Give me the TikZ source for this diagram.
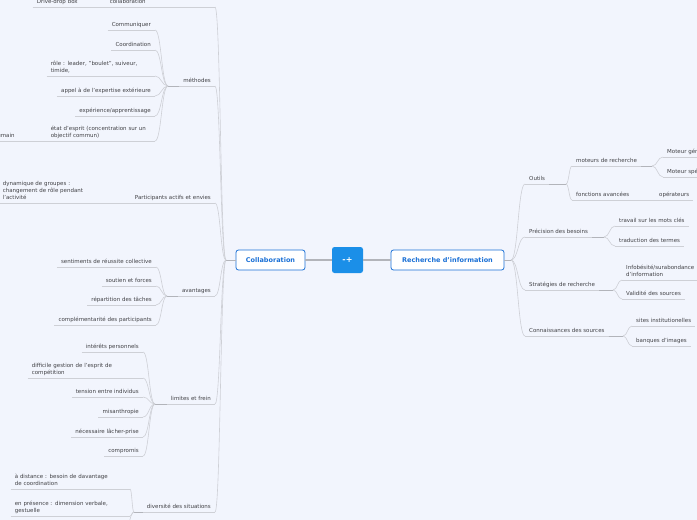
\documentclass[tikz,border=0pt]{standalone}
\usepackage{fontspec}
\setmainfont{DejaVu Sans}
\definecolor{mmBack}{RGB}{242, 245, 253}
\definecolor{mmBlue}{RGB}{27, 143, 232}
\definecolor{mmDeep}{RGB}{26, 112, 214}
\definecolor{mmText}{RGB}{66, 66, 70}
\definecolor{mmLine}{RGB}{206, 208, 214}
\definecolor{mmStub}{RGB}{178, 180, 186}
\usetikzlibrary{calc}
\tikzset{
  mainnode/.style={rectangle, rounded corners=2.5pt, draw=mmDeep, line width=0.8pt, fill=white, text=mmDeep, font=\fontsize{6.5}{7}\selectfont\bfseries, minimum height=20pt, inner sep=0pt},
  centernode/.style={rectangle, rounded corners=2.5pt, fill=mmBlue, text=white, font=\fontsize{8}{9}\selectfont\bfseries, minimum width=31pt, minimum height=26pt},
  topic/.style={inner xsep=4pt, inner ysep=1pt, text=mmText, font=\fontsize{5.5}{7}\selectfont, align=left,
    execute at end node=\strut,
    append after command={(\tikzlastnode.south west) edge[conn] (\tikzlastnode.south east)}},
  ltopic/.style={topic, anchor=south east},
  rtopic/.style={topic, anchor=south west},
  conn/.style={draw=mmLine, line width=0.6pt},
  stub/.style={draw=mmStub, line width=1pt},
  link/.style={draw=mmStub, line width=1.6pt},
}
% curved connector from a junction to the end of a child's underline
\newcommand\branch[2]{\draw[conn] (#1) .. controls ($(#1)!0.5!(#1 -| #2)$) and ($(#2)!0.5!(#2 -| #1)$) .. (#2);}

\begin{document}
\begin{tikzpicture}[x=1pt, y=1pt]
  \useasboundingbox (0,0) rectangle (697,-520);
  \clip (0,0) rectangle (697,-520);
  \fill[mmBack] (0,0) rectangle (697,-520);

  % centre
  \node[centernode] (root) at (347.5,-260) {-+};
  \node[mainnode, minimum width=69pt] (collab) at (270.5,-260) {Collaboration};
  \node[mainnode, minimum width=113pt] (rech) at (447.5,-260) {Recherche d'information};
  \draw[link] (root.west) -- (collab.east);
  \draw[link] (root.east) -- (rech.west);
  \coordinate (jcollab) at (226,-260);
  \coordinate (jrech) at (511,-260);
  \draw[stub] (collab.west) -- (jcollab);
  \draw[stub] (rech.east) -- (jrech);

  % Collaboration side
  \node[ltopic, text width=101pt] (outcol) at (215,-7) {collaboration};
  \node[ltopic, text width=65pt] (drive) at (106,-7) {Drive-drop box};

  \node[ltopic] (meth) at (215,-86) {méthodes};
  \node[ltopic] (comm) at (155,-30) {Communiquer};
  \node[ltopic] (coord) at (155,-50) {Coordination};
  \node[ltopic, text width=100pt] (role) at (155,-76) {rôle : leader, "boulet", suiveur,\\timide,};
  \node[ltopic] (appel) at (155,-96) {appel à de l'expertise extérieure};
  \node[ltopic] (expe) at (155,-116) {expérience/apprentissage};
  \node[ltopic, text width=100pt] (etat) at (155,-141) {état d'esprit (concentration sur un\\objectif commun)};
  \node[ltopic, text width=49pt] (huma) at (47,-141) {humain};

  \node[ltopic] (part) at (215,-203) {Participants actifs et envies};
  \node[ltopic, text width=100pt] (dyna) at (107,-203) {dynamique de groupes :\\changement de rôle pendant\\l'activité};

  \node[ltopic] (avan) at (215,-296) {avantages};
  \node[ltopic] (senti) at (156,-267) {sentiments de réussite collective};
  \node[ltopic] (sout) at (156,-286) {soutien et forces};
  \node[ltopic] (repa) at (156,-305) {répartition des tâches};
  \node[ltopic] (compl) at (156,-325) {complémentarité des participants};

  \node[ltopic] (limi) at (215,-404) {limites et frein};
  \node[ltopic] (inter) at (143,-352) {intérêts personnels};
  \node[ltopic, text width=107pt] (diff) at (143,-378) {difficile gestion de l'esprit de\\compétition};
  \node[ltopic] (tens) at (143,-397) {tension entre individus};
  \node[ltopic] (misa) at (143,-417) {misanthropie};
  \node[ltopic] (nece) at (143,-437) {nécessaire lâcher-prise};
  \node[ltopic] (compr) at (143,-456) {compromis};

  \node[ltopic] (dive) at (215,-512) {diversité des situations};
  \node[ltopic, text width=111pt] (dist) at (130,-489) {à distance : besoin de davantage\\de coordination};
  \node[ltopic, text width=111pt] (pres) at (130,-516) {en présence : dimension verbale,\\gestuelle};
  \coordinate (more) at (124,-536);

  \coordinate (jmeth) at (168,-86);
  \coordinate (javan) at (167,-296);
  \coordinate (jlimi) at (155,-404);
  \coordinate (jdive) at (134,-512);
  \draw[stub] (meth.south west) -- (jmeth);
  \draw[stub] (avan.south west) -- (javan);
  \draw[stub] (limi.south west) -- (jlimi);
  \draw[stub] (dive.south west) -- (jdive);

  \foreach \n in {outcol, meth, part, avan, limi, dive}
    {\branch{jcollab}{\n.south east}}
  \branch{outcol.south west}{drive.south east}
  \foreach \n in {comm, coord, role, appel, expe, etat}
    {\branch{jmeth}{\n.south east}}
  \branch{etat.south west}{huma.south east}
  \branch{part.south west}{dyna.south east}
  \foreach \n in {senti, sout, repa, compl}
    {\branch{javan}{\n.south east}}
  \foreach \n in {inter, diff, tens, misa, nece, compr}
    {\branch{jlimi}{\n.south east}}
  \branch{jdive}{dist.south east}
  \branch{jdive}{pres.south east}
  \branch{jdive}{more}

  % Recherche side
  \node[rtopic] (outi) at (525,-184) {Outils};
  \node[rtopic] (mote) at (572,-166) {moteurs de recherche};
  \node[rtopic] (gene) at (663,-157) {Moteur généraliste};
  \node[rtopic] (spec) at (663,-177) {Moteur spécialisé};
  \node[rtopic] (fonc) at (572,-200) {fonctions avancées};
  \node[rtopic] (oper) at (655,-200) {opérateurs};

  \node[rtopic] (prec) at (525,-237) {Précision des besoins};
  \node[rtopic] (trav) at (615,-226) {travail sur les mots clés};
  \node[rtopic] (trad) at (615,-246) {traduction des termes};

  \node[rtopic] (stra) at (525,-290) {Stratégies de recherche};
  \node[rtopic, text width=80pt] (info) at (622,-280) {Infobésité/surabondance\\d'information};
  \node[rtopic] (vali) at (622,-299) {Validité des sources};

  \node[rtopic] (conna) at (525,-336) {Connaissances des sources};
  \node[rtopic] (site) at (632,-326) {sites institutionelles};
  \node[rtopic] (banq) at (632,-346) {banques d'images};

  \coordinate (jouti) at (566,-184);
  \coordinate (jmote) at (652,-166);
  \coordinate (jprec) at (604,-237);
  \coordinate (jstra) at (613,-290);
  \coordinate (jconna) at (623,-336);
  \draw[stub] (outi.south east) -- (jouti);
  \draw[stub] (mote.south east) -- (jmote);
  \draw[stub] (prec.south east) -- (jprec);
  \draw[stub] (stra.south east) -- (jstra);
  \draw[stub] (conna.south east) -- (jconna);

  \foreach \n in {outi, prec, stra, conna}
    {\branch{jrech}{\n.south west}}
  \branch{jouti}{mote.south west}
  \branch{jouti}{fonc.south west}
  \branch{jmote}{gene.south west}
  \branch{jmote}{spec.south west}
  \branch{fonc.south east}{oper.south west}
  \branch{jprec}{trav.south west}
  \branch{jprec}{trad.south west}
  \branch{jstra}{info.south west}
  \branch{jstra}{vali.south west}
  \branch{jconna}{site.south west}
  \branch{jconna}{banq.south west}
\end{tikzpicture}
\end{document}
